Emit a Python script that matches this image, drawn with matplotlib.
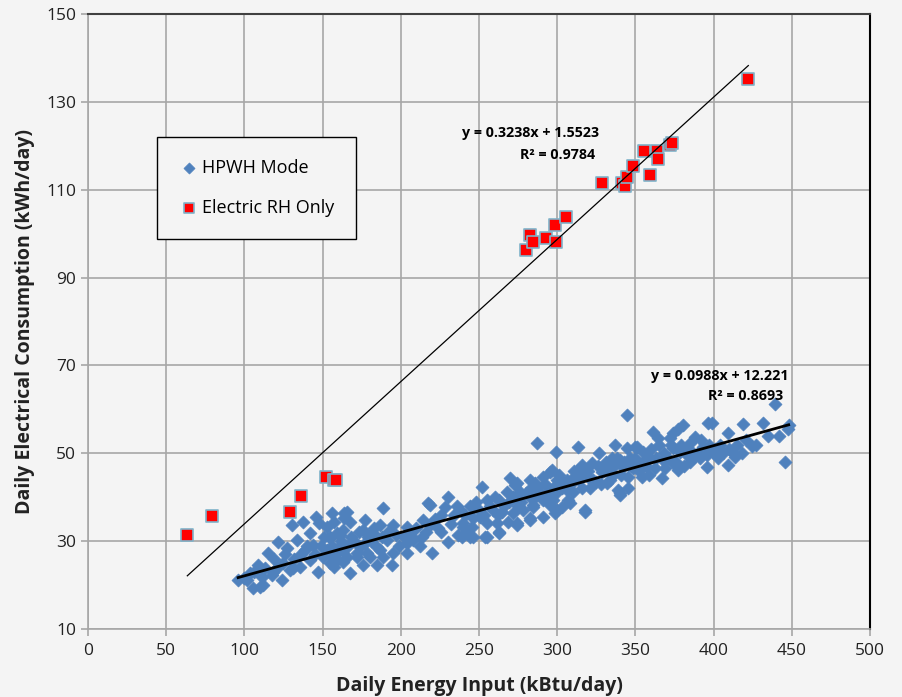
import numpy as np
import matplotlib
matplotlib.use("Agg")
import matplotlib.pyplot as plt

# Electric resistance heat only days
rh_x = [63.5, 79, 129, 136.4, 152.4, 157.3, 158.5, 280.3, 282.4, 284.7, 292.6, 298.6,
        299.4, 305.4, 328.8, 341.3, 343.4, 344.9, 348.5, 355.3, 359.1, 364, 364.5,
        372.3, 373.4, 422.2]
rh_y = [31.5, 35.7, 36.6, 40.3, 44.7, 44.0, 43.9, 96.3, 99.6, 98.2, 98.9, 102.0,
        98.0, 103.7, 111.6, 111.6, 110.8, 112.8, 115.3, 118.9, 113.3, 118.9, 116.9,
        120.2, 120.6, 135.2]

# HPWH mode days (approximate)
hpwh_x = [96, 105.5, 112, 108.7, 115, 121.5, 118, 124, 130.4, 137.5, 133.6, 127, 129,
          138.7, 142, 146, 148, 147, 152.8, 154.7, 159, 135.5, 142, 150, 154.7, 158,
          144, 103.6, 111, 117.6, 101.7, 124.7, 131,
          165.6, 164, 167.5, 157, 177, 176, 188.6, 186.7, 182, 179, 163, 161, 195, 204,
          184.8, 186.7, 191, 195, 194.4, 204, 207.8, 213.6, 214, 217.4, 220, 167.5, 172,
          165.6, 159, 178.4, 157, 162.4, 174,
          287, 230, 228, 218.7, 238, 226, 230, 252, 246, 255, 270, 273, 268, 276, 286,
          282.6, 263, 259, 265, 271.7, 278, 284.5, 250.6, 255, 246, 240, 242, 244, 253.8,
          263, 274, 282.6, 236.6, 261.5, 268.5,
          344.6, 313, 299, 327, 337, 344.6, 349.7, 335, 340, 346.5, 333.8, 342, 348.5,
          316, 322, 328.6, 295.4, 313, 319.7, 335.7, 345, 310, 300, 291, 325, 332, 305,
          339, 345, 287, 293.5, 310, 321, 307, 297.3, 291, 284.5, 295.4, 303, 298.6,
          317.8, 340,
          439.3, 431.6, 419, 396.4, 399, 380.4, 377, 374, 361, 364.5, 372, 388, 409, 385,
          424.5, 393, 374, 404, 412, 413.7, 409, 399.6, 395.8, 391, 383, 378.5, 385,
          395.8, 377, 374, 367.6, 359, 354.8, 351, 362.5, 367, 359, 354, 351, 369,
          448, 447.6, 445.6, 317.8, 340,
          207, 239, 243, 245.5, 274, 282.6, 296.7, 302, 306, 308, 300, 291, 282.6, 274,
          263, 255, 246, 204, 188.6, 184.8, 156.6, 163, 172, 180, 176, 156, 164, 154.7,
          240,
          100, 106, 110, 113, 119, 121, 126, 132, 136, 140, 145, 149, 151, 153, 156, 160,
          162, 166, 168, 170, 173, 177, 181, 183, 188, 192, 197, 199, 202, 206, 210, 212,
          216, 219, 222, 224, 226, 232, 234, 236, 241, 244, 248, 250, 253, 257, 260, 262,
          266, 269, 272, 275, 277, 280, 283, 286, 289, 292, 294, 297, 299, 301, 303, 306,
          309, 311, 314, 316, 318, 320, 323, 326, 328, 330, 331, 334, 336, 338, 341, 343,
          347, 350, 352, 355, 357, 360, 363, 365, 368, 371, 373, 376, 379, 381, 384, 387,
          390, 392, 397, 401, 403, 406, 410, 415, 418, 421, 427, 435, 442]
hpwh_y = [21.2, 19.3, 20, 24.6, 27.3, 29.8, 23, 21.2, 33.7, 34.4, 30.3, 28.4, 23.4,
          28, 31.9, 35.5, 34.1, 23, 33.2, 30.7, 31.9, 24.1, 25.7, 26.4, 25, 26.8,
          29.1, 22.7, 21.8, 22.3, 21.2, 25, 23.9,
          36.6, 35.2, 34.4, 34.4, 34.8, 32.5, 37.5, 33.7, 31.9, 31, 32.5, 31.4, 33.7, 33.2,
          28.7, 28, 30.3, 27.3, 24.6, 29.6, 30.3, 31, 34.8, 38.7, 27.3, 22.7, 26.4,
          26.4, 25.7, 27.3, 24.1, 28, 28.7,
          52.3, 40, 37.8, 38.2, 37.1, 32.1, 29.8, 42.3, 37.8, 39.4, 44.4, 42.8, 41.2, 41.2, 43.2,
          40, 39.4, 37.1, 36.6, 36.4, 37.1, 38.2, 35.5, 34.1, 35.3, 33.2, 31.9, 31, 31,
          31.9, 33.7, 35.3, 31.4, 34.1, 34.4,
          58.7, 51.4, 50.3, 50.1, 51.9, 51.2, 51.4, 48.9, 48.5, 48.9, 47.3, 46.9, 46.6,
          47.3, 47.8, 45.7, 45.7, 46.2, 44.6, 45, 44.6, 44.4, 43.9, 44.6, 43.5, 43.2, 43.2,
          41.6, 42.1, 42.1, 41.2, 41.2, 42.1, 39.4, 39.4, 39.4, 37.8, 38.2, 37.8, 36.4,
          37.1, 40.5,
          61.2, 56.9, 56.7, 56.9, 56.9, 56.4, 55.5, 54.6, 54.8, 53.5, 53.5, 53.7, 54.6, 52.3,
          51.7, 51.4, 51.2, 51.9, 50.3, 49.2, 47.3, 50.3, 49.6, 48.9, 49.6, 50.3, 48,
          46.9, 46.2, 47.8, 48.5, 49.2, 50.3, 51.4, 46.6, 44.4, 45, 44.6, 47.8, 46.6,
          56.4, 55.5, 48, 36.6, 41,
          31, 31, 31.9, 33.2, 43.2, 43.9, 46.2, 43.9, 41.6, 38.7, 37.1, 35.5, 34.8, 34.1,
          32.1, 31, 31, 27.3, 26.4, 24.6, 26.4, 25.3, 27.3, 26.4, 24.6, 36.4, 36.4, 31,
          34.1,
          21.5, 23, 19.5, 24, 26, 24, 27, 26, 27, 29, 27, 29, 31, 28, 29, 28.5,
          30, 29, 31, 30, 32, 29.5, 30, 33, 31, 32, 31.5, 29, 31, 32, 33, 29,
          32, 34, 35, 33, 36, 34, 36, 38, 36, 38, 39, 37, 36, 38, 40, 36,
          38, 39, 40, 38, 39, 41, 42, 40, 41, 43, 40, 42, 41, 45, 42, 44,
          43, 46, 44, 42, 45, 46, 44, 47, 43, 46, 48, 44, 47, 49, 45, 48,
          47, 49, 46, 48, 47, 51, 49, 52, 50, 49, 52, 48, 52, 47, 51, 49,
          50, 53, 52, 51, 49, 50, 51, 52, 50, 53, 52, 54, 54]

# Excel trendline coefficients shown on the chart
rh_fit = (0.3238, 1.5523)
hpwh_fit = (0.0988, 12.221)

bg = "#f4f4f4"
grid = "#a6a6a6"
blue = "#4f81bd"

plt.rcParams["font.family"] = ["Open Sans", "DejaVu Sans"]

fig = plt.figure(figsize=(9.02, 6.97), dpi=100, facecolor=bg)
ax = fig.add_axes([88 / 902, 1 - 629 / 697, (870 - 88) / 902, (629 - 14) / 697])
ax.set_facecolor(bg)

ax.scatter(hpwh_x, hpwh_y, marker="D", s=44, color=blue, edgecolors=blue,
           linewidths=0.5, zorder=3, label="HPWH Mode")
ax.scatter(rh_x, rh_y, marker="s", s=70, color="#ff0000", edgecolors="#7fb2c9",
           linewidths=1.2, zorder=4, label="Electric RH Only")

# trendlines
xr = np.array([min(rh_x), max(rh_x)])
ax.plot(xr, rh_fit[0] * xr + rh_fit[1], color="black", lw=0.9, zorder=5)
xh = np.array([min(hpwh_x), max(hpwh_x)])
ax.plot(xh, hpwh_fit[0] * xh + hpwh_fit[1], color="black", lw=2.0, zorder=5)

# trendline labels (one text per line, right aligned)
lab = dict(ha="right", va="center", fontsize=10.3, fontweight="bold", zorder=6)
ax.text(327, 123.0, "y = 0.3238x + 1.5523", **lab)
ax.text(324, 107.8 + 10.0, "R² = 0.9784", **lab)
ax.text(448, 67.5, "y = 0.0988x + 12.221", **lab)
ax.text(444.5, 63.0, "R² = 0.8693", **lab)

ax.set_xlim(0, 500)
ax.set_ylim(10, 150)
ax.set_xticks(np.arange(0, 501, 50))
ax.set_yticks(np.arange(10, 151, 20))
ax.grid(True, color=grid, lw=1.2, zorder=0)
ax.set_axisbelow(True)
ax.tick_params(axis="both", colors=grid, labelcolor="#222222", labelsize=12.5,
               length=5, width=1.2, direction="out")
ax.tick_params(axis="x", pad=5)

for side in ["left", "bottom"]:
    ax.spines[side].set_color(grid)
    ax.spines[side].set_linewidth(1.2)
ax.spines["top"].set_color("#404040")
ax.spines["top"].set_linewidth(1.5)
ax.spines["right"].set_color("black")
ax.spines["right"].set_linewidth(1.5)

ax.set_xlabel("Daily Energy Input (kBtu/day)", fontsize=14, fontweight="bold",
              color="#222222", labelpad=12)
ax.set_ylabel("Daily Electrical Consumption (kWh/day)", fontsize=14, fontweight="bold",
              color="#222222", labelpad=8)

leg = ax.legend(loc="upper left", bbox_to_anchor=(0.088, 0.80), fontsize=13,
                frameon=True, fancybox=False, edgecolor="black", facecolor=bg,
                framealpha=1, borderpad=1.2, labelspacing=1.25, handletextpad=0.1,
                handlelength=1.2, borderaxespad=0, markerscale=0.85)
leg.get_frame().set_linewidth(1.0)

fig.savefig("out.png", dpi=100, facecolor=bg)
